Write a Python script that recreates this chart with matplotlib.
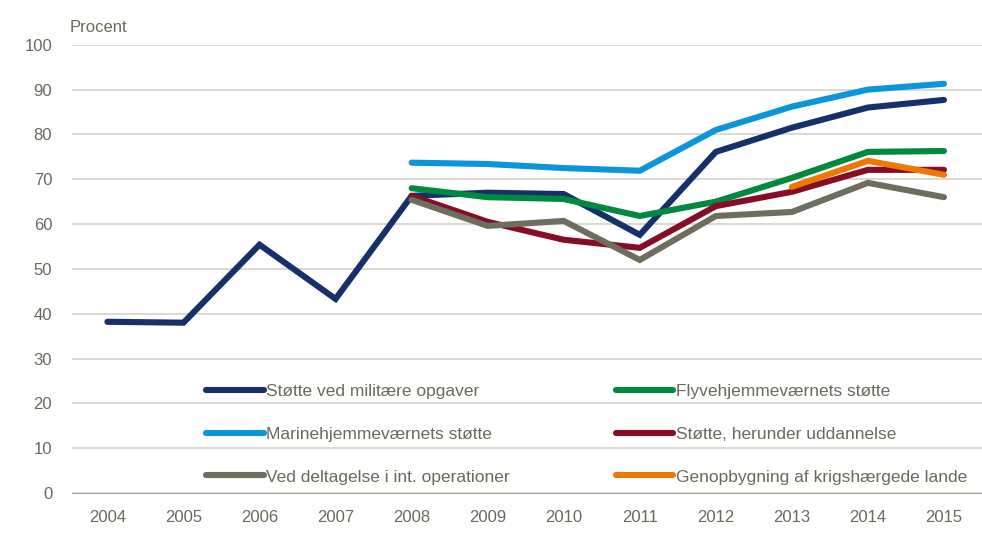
import matplotlib
matplotlib.use("Agg")
import matplotlib.pyplot as plt
import numpy as np

plt.rcParams["font.family"] = "Liberation Sans"
plt.rcParams["figure.figsize"] = (9.82, 5.33)

txt_col = "#6b695c"
grid_col = "#d4d2c8"

years = [2004, 2005, 2006, 2007, 2008, 2009, 2010, 2011, 2012, 2013, 2014, 2015]

militaere = [38.2, 38.0, 55.4, 43.3, 66.3, 67.0, 66.7, 57.6, 76.1, 81.5, 86.0, 87.7]
marine = [None, None, None, None, 73.7, 73.4, 72.5, 71.9, 81.0, 86.2, 90.0, 91.3]
flyve = [None, None, None, None, 68.0, 66.0, 65.6, 61.8, 65.0, 70.3, 76.1, 76.3]
uddannelse = [None, None, None, None, 66.3, 60.5, 56.5, 54.7, 64.0, 67.2, 72.1, 72.1]
int_op = [None, None, None, None, 65.4, 59.6, 60.7, 52.0, 61.8, 62.7, 69.2, 66.0]
genop = [None, None, None, None, None, None, None, None, None, 68.3, 74.1, 71.0]

labels = ["Støtte ved militære opgaver", "Flyvehjemmeværnets støtte",
          "Marinehjemmeværnets støtte", "Støtte, herunder uddannelse",
          "Ved deltagelse i int. operationer", "Genopbygning af krigshærgede lande"]
series = [militaere, flyve, marine, uddannelse, int_op, genop]
colors = ["#15306b", "#00893f", "#0a96d8", "#870c25", "#6e6d5e", "#ef7706"]

fig = plt.figure()
ax = fig.add_axes([0.073, 0.075, 0.927, 0.841])

lines = []
for vals, lab, c in zip(series, labels, colors):
    y = np.array([np.nan if v is None else v for v in vals], dtype=float)
    ln, = ax.plot(years, y, color=c, lw=4.4, label=lab, solid_capstyle="round",
                  solid_joinstyle="miter", zorder=3)
    lines.append(ln)

ax.set_xlim(2003.53, 2015.5)
ax.set_ylim(0, 100)
ax.set_yticks(range(0, 101, 10))
ax.set_xticks(years)
ax.yaxis.grid(True, color=grid_col, lw=1.2)
ax.set_axisbelow(True)
for s in ["top", "right", "left"]:
    ax.spines[s].set_visible(False)
ax.spines["bottom"].set_color("#a8a698")
ax.tick_params(axis="both", length=0, labelsize=12, colors=txt_col)
ax.tick_params(axis="x", pad=12)
ax.tick_params(axis="y", pad=14)

fig.text(0.071, 0.935, "Procent", fontsize=12, color=txt_col, ha="left", va="bottom")

# legend fills column-wise, so reorder to get the row layout
order = [0, 2, 4, 1, 3, 5]
leg = ax.legend([lines[i] for i in order], [labels[i] for i in order],
                loc="lower left", bbox_to_anchor=(0.148, 0.019), ncol=2,
                frameon=False, fontsize=12.5, handlelength=3.3, handletextpad=0.15,
                columnspacing=6.1, labelspacing=1.6, borderpad=0, borderaxespad=0)
for t in leg.get_texts():
    t.set_color(txt_col)

fig.savefig("out.png", dpi=100)
